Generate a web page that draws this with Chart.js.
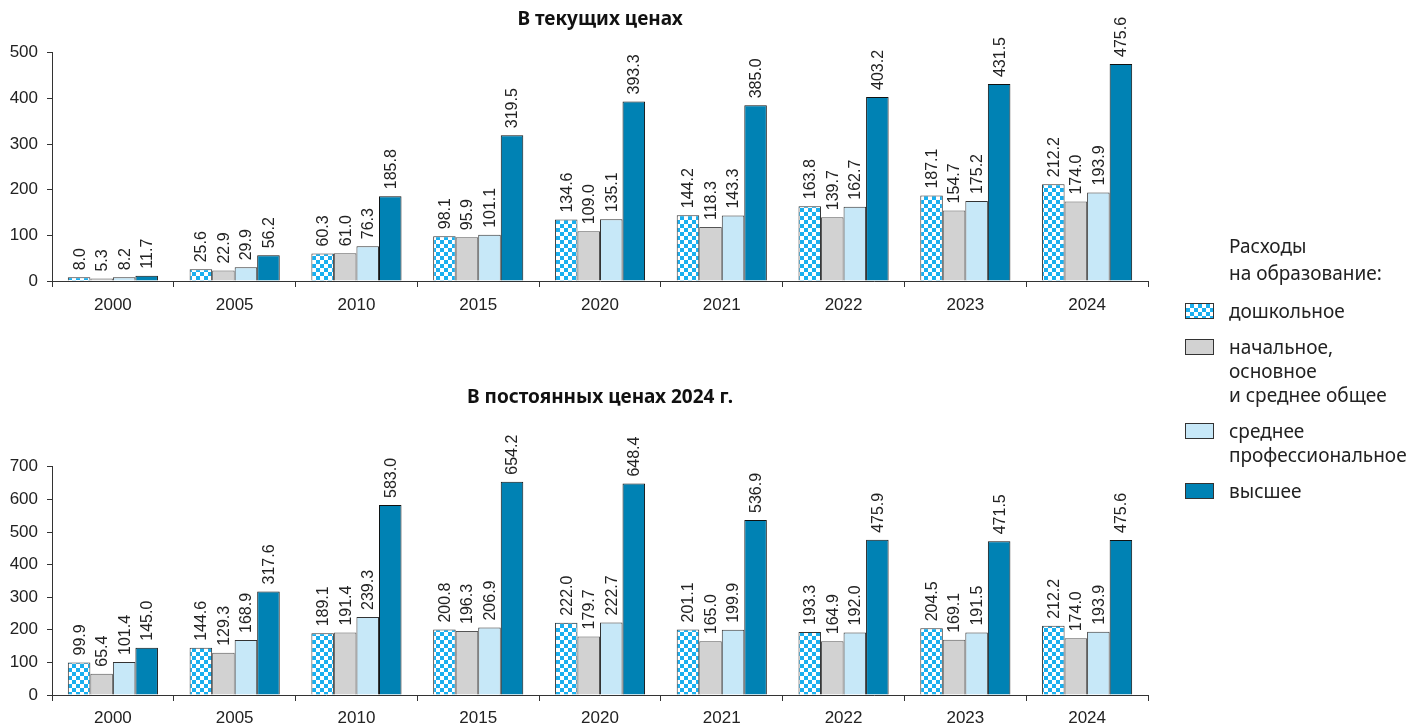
<!DOCTYPE html>
<html>
<head>
<meta charset="utf-8">
<script src="https://cdn.jsdelivr.net/npm/chart.js@4.4.0/dist/chart.umd.min.js"></script>
<style>
  body { margin: 0; background: #fff; width: 1411px; height: 727px; position: relative; overflow: hidden; }
  .box { position: absolute; left: 0; }
  #legend { position: absolute; left: 1185px; top: 233px; font-family: "Noto Sans", sans-serif; font-size: 19px; color: #222; line-height: 24px; }
  #legend .head { margin-left: 44px; line-height: 27px; }
  #legend .item { display: flex; align-items: flex-start; margin-top: 12px; }
  #legend .sw { width: 27px; height: 14px; border: 1px solid #333; margin-top: 4px; margin-right: 15px; flex: none; }
</style>
</head>
<body>
<div class="box" style="top:0;width:1200px;height:320px"><canvas id="cur"></canvas></div>
<div class="box" style="top:360px;width:1200px;height:367px"><canvas id="const"></canvas></div>
<div id="legend"></div>
<script>
// годы
const years = ['2000', '2005', '2010', '2015', '2020', '2021', '2022', '2023', '2024'];
const seriesNames = ['дошкольное', 'начальное,\nосновное\nи среднее общее', 'среднее\nпрофессиональное', 'высшее'];

// в текущих ценах
const curPreschool = [8.0, 25.6, 60.3, 98.1, 134.6, 144.2, 163.8, 187.1, 212.2];
const curGeneral   = [5.3, 22.9, 61.0, 95.9, 109.0, 118.3, 139.7, 154.7, 174.0];
const curVocational = [8.2, 29.9, 76.3, 101.1, 135.1, 143.3, 162.7, 175.2, 193.9];
const curHigher    = [11.7, 56.2, 185.8, 319.5, 393.3, 385.0, 403.2, 431.5, 475.6];

// в постоянных ценах 2024 г.
const constPreschool = [99.9, 144.6, 189.1, 200.8, 222.0, 201.1, 193.3, 204.5, 212.2];
const constGeneral   = [65.4, 129.3, 191.4, 196.3, 179.7, 165.0, 164.9, 169.1, 174.0];
const constVocational = [101.4, 168.9, 239.3, 206.9, 222.7, 199.9, 192.0, 191.5, 193.9];
const constHigher    = [145.0, 317.6, 583.0, 654.2, 648.4, 536.9, 475.9, 471.5, 475.6];

const curTicks = [0, 100, 200, 300, 400, 500];
const constTicks = [0, 100, 200, 300, 400, 500, 600, 700];

const checkBlue = '#1AAFEF';
const colGrey = '#D2D2D2';
const colLight = '#C7E8F8';
const colDark = '#0082B4';

function checker() {
    let c = document.createElement('canvas');
    c.width = 8; c.height = 8;
    let g = c.getContext('2d');
    g.fillStyle = '#fff';
    g.fillRect(0, 0, 8, 8);
    g.fillStyle = checkBlue;
    g.fillRect(0, 0, 4, 4);
    g.fillRect(4, 4, 4, 4);
    return g.createPattern(c, 'repeat');
}

// подписи значений над столбиками
const valueLabels = {
    id: 'valueLabels',
    afterDatasetsDraw(chart) {
        let ctx = chart.ctx;
        ctx.save();
        ctx.font = '16px "Liberation Sans", Arial, sans-serif';
        ctx.fillStyle = '#222';
        ctx.textAlign = 'left';
        ctx.textBaseline = 'middle';
        chart.data.datasets.forEach(function (ds, i) {
            chart.getDatasetMeta(i).data.forEach(function (bar, j) {
                ctx.save();
                ctx.translate(bar.x, bar.y - 7);
                ctx.rotate(-Math.PI / 2);
                ctx.fillText(ds.data[j].toFixed(1), 0, 1);
                ctx.restore();
            });
        });
        ctx.restore();
    }
};

function makeChart(id, title, data, ticks, opt) {
    let pattern = checker();
    let sets = [
        { label: seriesNames[0], data: data[0], backgroundColor: pattern, borderColor: '#333' },
        { label: seriesNames[1], data: data[1], backgroundColor: colGrey, borderColor: '#555' },
        { label: seriesNames[2], data: data[2], backgroundColor: colLight, borderColor: '#333' },
        { label: seriesNames[3], data: data[3], backgroundColor: colDark, borderColor: '#111' }
    ];
    sets.forEach(function (s) {
        s.borderWidth = 1;
        s.categoryPercentage = 0.74;
        s.barPercentage = 1.0;
    });
    return new Chart(document.getElementById(id), {
        type: 'bar',
        data: { labels: years, datasets: sets },
        options: {
            responsive: true,
            maintainAspectRatio: false,
            animation: false,
            layout: { padding: { left: 0, right: 52, top: 0, bottom: opt.padBottom } },
            plugins: {
                legend: { display: false },
                tooltip: { enabled: false },
                title: {
                    display: true,
                    fullSize: false,
                    text: title,
                    color: '#111',
                    font: { family: '"Noto Sans", sans-serif', size: 19, weight: 'bold' },
                    padding: { top: opt.titleTop, bottom: opt.titleBottom }
                }
            },
            scales: {
                x: {
                    grid: { display: true, drawOnChartArea: false, drawTicks: true, tickLength: 6, color: '#333', offset: true },
                    border: { display: true, color: '#333', width: 1 },
                    ticks: { color: '#222', font: { family: '"Liberation Sans", Arial, sans-serif', size: 17 }, padding: opt.xPad, maxRotation: 0 },
                    afterFit: function (s) { s.height = opt.xHeight; }
                },
                y: {
                    min: 0,
                    max: ticks[ticks.length - 1],
                    afterBuildTicks: function (s) { s.ticks = ticks.map(function (v) { return { value: v }; }); },
                    grid: { display: true, drawOnChartArea: false, drawTicks: true, tickLength: 5, color: '#333' },
                    border: { display: true, color: '#333', width: 1 },
                    ticks: { color: '#222', font: { family: '"Liberation Sans", Arial, sans-serif', size: 17 }, padding: 9 },
                    afterFit: function (s) { s.width = 52; }
                }
            }
        },
        plugins: [valueLabels]
    });
}

makeChart('cur', 'В текущих ценах', [curPreschool, curGeneral, curVocational, curHigher], curTicks,
    { padBottom: 3, xHeight: 36, xPad: 8, titleTop: 8, titleBottom: 22 });
makeChart('const', 'В постоянных ценах 2024 г.', [constPreschool, constGeneral, constVocational, constHigher], constTicks,
    { padBottom: 0, xHeight: 32, xPad: 7, titleTop: 26, titleBottom: 58 });

// легенда
let legendHtml = '<div class="head">Расходы<br>на образование:</div>';
let swatches = [
    'background: repeating-conic-gradient(' + checkBlue + ' 0 25%, #fff 0 50%) 0 0 / 8px 8px;',
    'background:' + colGrey + ';',
    'background:' + colLight + ';',
    'background:' + colDark + ';'
];
seriesNames.forEach(function (n, i) {
    legendHtml += '<div class="item"><div class="sw" style="' + swatches[i] + '"></div><div>' +
        n.split('\n').join('<br>') + '</div></div>';
});
document.getElementById('legend').innerHTML = legendHtml;
</script>
</body>
</html>
